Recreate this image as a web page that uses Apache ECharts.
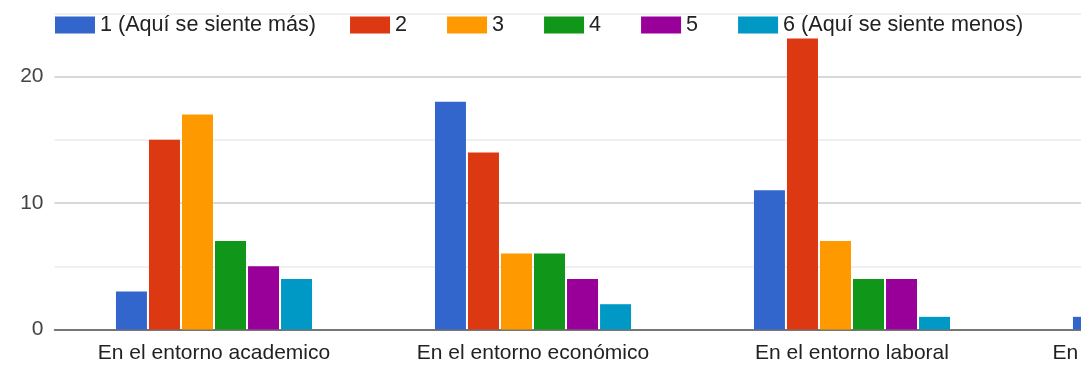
<!DOCTYPE html>
<html>
<head>
<meta charset="utf-8">
<script src="https://cdn.jsdelivr.net/npm/echarts@6/dist/echarts.min.js"></script>
<style>
  html, body { margin: 0; padding: 0; background: #fff; overflow: hidden; }
  /* The canvas runs past the window's right edge, so the last group is cut off */
  #chart { width: 1331px; height: 367px; }
</style>
</head>
<body>
<div id="chart"></div>
<script>
// Survey categories (the last one continues past the right edge)
const categories = [
  'En el entorno academico',
  'En el entorno económico',
  'En el entorno laboral',
  'En el entorno tecnológico'
];

// Answer scale: 1 = feels it most, 6 = feels it least
const seriesNames = [
  '1 (Aquí se siente más)', '2', '3', '4', '5', '6 (Aquí se siente menos)'
];
const seriesColors = ['#3366cc', '#dc3912', '#ff9900', '#109618', '#990099', '#0099c6'];

// Responses per category for each answer
const answer1 = [3, 18, 11, 1];
const answer2 = [15, 14, 23, 4];
const answer3 = [17, 6, 7, 8];
const answer4 = [7, 6, 4, 10];
const answer5 = [5, 4, 4, 12];
const answer6 = [4, 2, 1, 15];

const yTicks = [0, 10, 20];

const seriesValues = [answer1, answer2, answer3, answer4, answer5, answer6];

const chart = echarts.init(document.getElementById('chart'), null, { renderer: 'canvas' });

const font = 'Arial, "Liberation Sans", sans-serif';

chart.setOption({
  animation: false,
  color: seriesColors,
  legend: {
    left: 50,
    top: 9,
    icon: 'rect',
    itemWidth: 40,
    itemHeight: 17,
    itemGap: 34,
    textStyle: { fontFamily: font, fontSize: 21.6, color: '#222' },
    // single-digit entries get a non-breaking space of extra room
    formatter: name => (name.length === 1 ? name + '\u00a0' : name),
    data: seriesNames
  },
  grid: {
    left: 54.5,
    top: 13.3,
    bottom: 37.5,
    right: 0.5,
    containLabel: false
  },
  xAxis: {
    type: 'category',
    data: categories,
    axisLine: { show: true, lineStyle: { color: '#555', width: 1.5 } },
    axisTick: { show: false },
    axisLabel: {
      interval: 0,
      margin: 13,
      fontFamily: font,
      fontSize: 21,
      color: '#222'
    },
    splitLine: { show: false }
  },
  yAxis: {
    type: 'value',
    min: 0,
    max: 25,
    interval: 5,
    axisLine: { show: false },
    axisTick: { show: false },
    axisLabel: {
      margin: 11,
      fontFamily: font,
      fontSize: 21,
      color: '#444',
      formatter: v => (yTicks.indexOf(v) >= 0 ? String(v) : '')
    },
    splitLine: {
      show: true,
      lineStyle: { color: ['#cccccc', '#ebebeb'], width: 1.5 }
    }
  },
  series: seriesNames.map((name, i) => ({
    name: name,
    type: 'bar',
    data: seriesValues[i],
    barWidth: 31,
    barGap: '6.5%',
    itemStyle: { color: seriesColors[i] }
  }))
});
</script>
</body>
</html>
